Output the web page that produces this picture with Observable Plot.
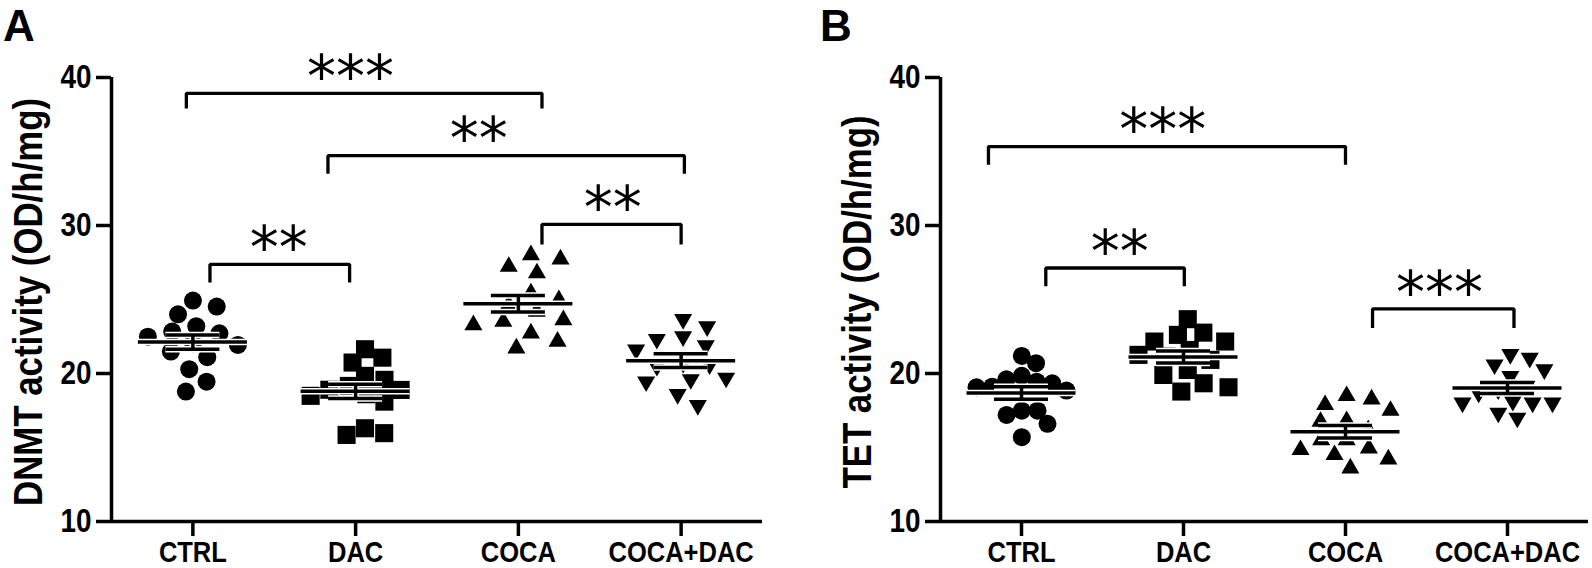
<!DOCTYPE html>
<html><head><meta charset="utf-8">
<script src="https://cdn.jsdelivr.net/npm/d3@7"></script>
<script src="https://cdn.jsdelivr.net/npm/@observablehq/plot@0.6"></script>
<style>
html,body{margin:0;padding:0;background:#fff;}
#fig{position:relative;width:1592px;height:568px;overflow:hidden;font-family:"Liberation Sans",Arial,sans-serif;color:#000;}
.panel{position:absolute;top:0;}
.letter{position:absolute;font-weight:bold;font-size:44px;line-height:49px;}
.ylab{position:absolute;font-weight:bold;font-size:40px;line-height:40px;white-space:nowrap;transform:translate(-50%,-50%) rotate(-90deg) scale(0.87,1);}
</style></head><body><div id="fig"></div>
<script>
// ---- data ----
const groups = ["CTRL", "DAC", "COCA", "COCA+DAC"];
const yTicks = [10, 20, 30, 40];

const dnmtCtrl   = [24.93, 24.52, 24.0, 23.2, 22.83, 22.49, 22.72, 22.05, 21.93, 21.48, 21.1, 20.29, 19.45, 18.78];
const dnmtDac    = [21.64, 21.07, 20.74, 19.84, 19.57, 19.16, 18.89, 18.9, 18.49, 18.6, 18.1, 16.3, 15.97, 15.85];
const dnmtCoca   = [28.01, 27.72, 27.22, 26.78, 25.43, 24.97, 24.64, 24.18, 23.62, 23.51, 23.28, 22.72, 22.16, 21.71];
const dnmtCocaDac= [23.66, 23.17, 22.5, 22.32, 21.9, 21.6, 20.7, 20.6, 20.5, 19.7, 19.6, 19.45, 18.6, 17.85];

const tetCtrl    = [21.19, 20.7, 19.84, 19.61, 19.45, 19.34, 19.11, 19.07, 18.85, 17.49, 17.49, 17.2, 16.6, 15.7];
const tetDac     = [23.67, 22.76, 22.61, 22.16, 22.16, 21.59, 21.26, 21.14, 20.92, 20.24, 19.9, 19.34, 19.07, 18.78];
const tetCoca    = [18.49, 18.26, 17.88, 17.49, 16.8, 16.75, 16.19, 15.51, 15.51, 14.95, 14.84, 14.5, 14.21, 13.6];
const tetCocaDac = [21.3, 21.05, 20.6, 20.27, 19.82, 19.14, 18.91, 18.69, 18.13, 18.02, 18.02, 18.02, 17.34, 17.0];

// significance brackets (x in group-index units, y in data units)
const bracketsA = [
  {from: -0.04, to: 2.145, top: 38.93, drop: 37.9, label: "***", at: 0.968},
  {from: 0.83, to: 3.02, top: 34.72, drop: 33.49, label: "**", at: 1.757},
  {from: 0.105, to: 0.963, top: 27.37, drop: 26.15, label: "**", at: 0.528},
  {from: 2.145, to: 3.0, top: 30.07, drop: 28.72, label: "**", at: 2.58}
];
const bracketsB = [
  {from: -0.204, to: 2.0, top: 35.33, drop: 34.1, label: "***", at: 0.872},
  {from: 0.15, to: 1.005, top: 27.13, drop: 25.9, label: "**", at: 0.606},
  {from: 2.167, to: 3.04, top: 24.36, drop: 23.08, label: "***", at: 2.58}
];

// ---- layout ----
const W = 796, H = 568, mT = 77, mB = 47;
const pxPerUnit = (H - mT - mB) / 30;
const halfSpread = 45;

const sqrt3 = Math.sqrt(3);
const triangleDown = {
  draw(ctx, size) {
    const y = -Math.sqrt(size / (sqrt3 * 3));
    ctx.moveTo(0, -y * 2);
    ctx.lineTo(-sqrt3 * y, y);
    ctx.lineTo(sqrt3 * y, y);
    ctx.closePath();
  }
};
const symbols = [
  {symbol: "circle", r: 9},
  {symbol: "square", r: 10.2},
  {symbol: "triangle", r: 6.7},
  {symbol: triangleDown, r: 6.7}
];

function swarmOffsets(values, D, sx) {
  const order = d3.range(values.length).sort((a, b) => values[b] - values[a]);
  const placed = [];
  const off = new Array(values.length);
  for (const i of order) {
    const y = values[i] * pxPerUnit;
    const cands = [0];
    for (const p of placed) {
      const dy = Math.abs(p.y - y);
      if (dy < D) {
        const w = Math.sqrt(D * D - dy * dy) * sx;
        cands.push(p.x + w, p.x - w);
      }
    }
    cands.sort((a, b) => Math.abs(a) - Math.abs(b) || b - a);
    const ok = x => placed.every(p => {
      const dx = (p.x - x) / sx, dy = p.y - y;
      return dx * dx + dy * dy >= D * D - 1e-6;
    });
    const x = cands.find(ok);
    off[i] = x;
    placed.push({x, y});
  }
  const lo = d3.min(off), hi = d3.max(off);
  const mid = (lo + hi) / 2, half = (hi - lo) / 2 || 1;
  return off.map(o => (o - mid) / half * halfSpread);
}

function makePanel(series, brackets, mL, mR) {
  const pxPerIndex = (W - mL - mR) / 4;
  const pts = series.map((vals, g) => {
    const off = swarmOffsets(vals, 17, 1.45);
    return vals.map((v, j) => ({g, value: v, x: g + off[j] / pxPerIndex}));
  });
  const stats = series.map((vals, g) => ({
    g, mean: d3.mean(vals), sem: d3.deviation(vals) / Math.sqrt(vals.length)
  }));
  const bracketLines = brackets.flatMap((b, k) => [
    {k, x: b.from, y: b.drop}, {k, x: b.from, y: b.top},
    {k, x: b.to, y: b.top}, {k, x: b.to, y: b.drop}
  ]);
  const hw = 54.5 / pxPerIndex, cw = 27 / pxPerIndex;
  const statRules = (stroke, sw) => [
    Plot.ruleY(stats, {y: "mean", x1: d => d.g - hw, x2: d => d.g + hw, stroke, strokeWidth: sw}),
    Plot.ruleY(stats, {y: d => d.mean + d.sem, x1: d => d.g - cw, x2: d => d.g + cw, stroke, strokeWidth: sw}),
    Plot.ruleY(stats, {y: d => d.mean - d.sem, x1: d => d.g - cw, x2: d => d.g + cw, stroke, strokeWidth: sw}),
    Plot.ruleX(stats, {x: "g", y1: d => d.mean - d.sem, y2: d => d.mean + d.sem, stroke, strokeWidth: sw})
  ];
  const axes = typeof Plot.axisX === "function" ? [
    Plot.axisY({ticks: yTicks, tickSize: 15, tickPadding: 5, strokeWidth: 3.5, fontSize: 34, fontWeight: "bold", label: null}),
    Plot.axisX({ticks: [0, 1, 2, 3], tickFormat: i => groups[i], tickSize: 15, tickPadding: 5, strokeWidth: 3.5, fontSize: 29, fontWeight: "bold", label: null})
  ] : [];
  const svg = Plot.plot({
    width: W, height: H,
    marginLeft: mL, marginRight: mR, marginTop: mT, marginBottom: mB,
    style: {fontFamily: "'Liberation Sans', Arial, sans-serif", fontSize: "29px", fontWeight: "bold", color: "black", background: "white", overflow: "visible"},
    x: {domain: [-0.5, 3.5], ticks: [0, 1, 2, 3], tickFormat: i => groups[i], tickSize: 15, tickPadding: 5, label: null},
    y: {domain: [10, 40], ticks: yTicks, tickSize: 15, tickPadding: 5, label: null},
    marks: [
      ...axes,
      ...pts.map((p, g) => Plot.dot(p, {x: "x", y: "value", symbol: symbols[g].symbol, r: symbols[g].r, fill: "black", stroke: "none"})),
      ...statRules("white", 6.5),
      ...statRules("black", 3.5),
      Plot.line(bracketLines, {x: "x", y: "y", z: "k", stroke: "black", strokeWidth: 3.3, strokeLinejoin: "miter", strokeLinecap: "butt"}),
      Plot.text(brackets, {x: "at", y: "top", text: "label", fontSize: 58, fontWeight: "normal", fontFamily: "'DejaVu Sans', sans-serif", dy: -15, textAnchor: "middle"}),
      Plot.ruleX([-0.5], {y1: 10, y2: 40, stroke: "black", strokeWidth: 3.5}),
      Plot.ruleY([10], {x1: -0.5, x2: 3.5, stroke: "black", strokeWidth: 3.5})
    ]
  });
  // condensed look of the tick labels: squeeze horizontally about their anchor
  svg.querySelectorAll('g[aria-label="x-axis tick label"] text').forEach(t => {
    const tr = t.getAttribute("transform");
    if (tr) t.setAttribute("transform", tr + " scale(0.88,1)");
  });
  svg.querySelectorAll('g[aria-label="y-axis tick label"] text').forEach(t => {
    const tr = t.getAttribute("transform");
    if (tr) t.setAttribute("transform", tr + " scale(0.82,1)");
  });
  return svg;
}

const fig = document.getElementById("fig");
function addPanel(svg, left) {
  svg.classList.add("panel");
  svg.style.left = left + "px";
  svg.style.position = "absolute";
  svg.style.top = "0px";
  fig.appendChild(svg);
}
addPanel(makePanel([dnmtCtrl, dnmtDac, dnmtCoca, dnmtCocaDac], bracketsA, 111, 34), 0);
addPanel(makePanel([tetCtrl, tetDac, tetCoca, tetCocaDac], bracketsB, 144, 4), 796);

function addText(cls, text, css) {
  const d = document.createElement("div");
  d.className = cls;
  d.textContent = text;
  Object.assign(d.style, css);
  fig.appendChild(d);
}
addText("letter", "A", {left: "3px", top: "1px"});
addText("letter", "B", {left: "820px", top: "1px"});
addText("ylab", "DNMT activity (OD/h/mg)", {left: "28px", top: "302px"});
addText("ylab", "TET activity (OD/h/mg)", {left: "857px", top: "302px"});
</script></body></html>
